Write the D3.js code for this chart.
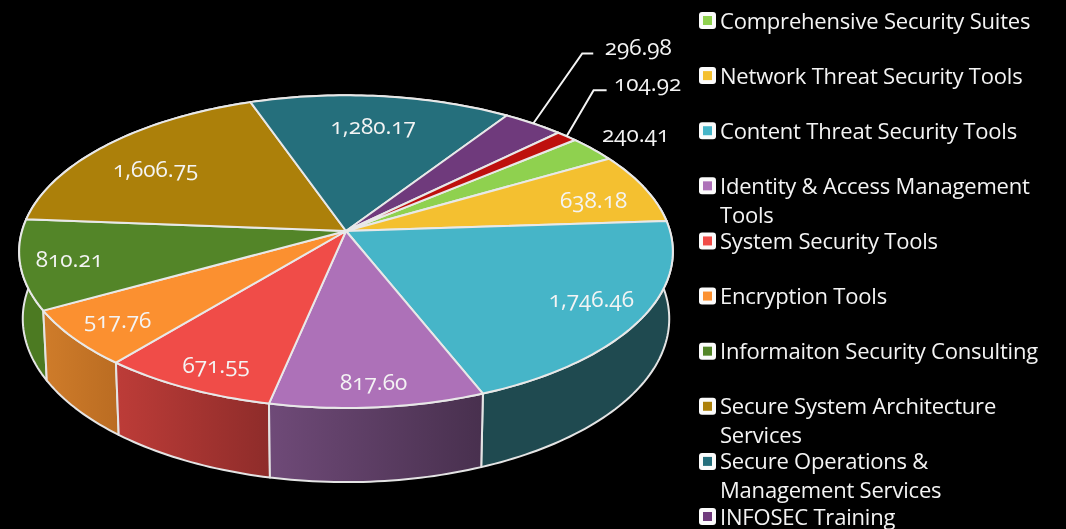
<!DOCTYPE html>
<html>
<head>
<meta charset="utf-8">
<script src="https://cdn.jsdelivr.net/npm/d3@7"></script>
<style>
  html, body { margin: 0; background: #000; overflow: hidden; }
  svg { display: block; filter: blur(0.4px); }
  text { font-family: "Open Sans", sans-serif; fill: #f4f4f4; font-variant-numeric: oldstyle-nums; font-feature-settings: "onum"; }
</style>
</head>
<body>
<svg id="pie-chart"></svg>
<script>
// Slice order follows the legend, the last slice has no visible legend entry
const categories = [
    ["Comprehensive Security Suites"],
    ["Network Threat Security Tools"],
    ["Content Threat Security Tools"],
    ["Identity & Access Management", "Tools"],
    ["System Security Tools"],
    ["Encryption Tools"],
    ["Informaiton Security Consulting"],
    ["Secure System Architecture", "Services"],
    ["Secure Operations &", "Management Services"],
    ["INFOSEC Training"]
]
const values = [240.41, 638.18, 1746.46, 817.60, 671.55, 517.76, 810.21, 1606.75, 1280.17, 296.98, 104.92]
const valueLabels = ["240.41", "638.18", "1,746.46", "817.60", "671.55", "517.76", "810.21", "1,606.75", "1,280.17", "296.98", "104.92"]

const topColors = ["#8fd14f", "#f4c030", "#46b5c8", "#ad71b8", "#f04c48", "#fb9030", "#538528", "#ac800a", "#256f7c", "#6f3a7c", "#be100d"]
const wallFrom = ["#70a53e", "#c09726", "#1f4a50", "#6f4a78", "#bd3c38", "#cf7c2a", "#4c7a22", "#87640a", "#1c5762", "#572e61", "#950c0a"]
const wallTo = ["#70a53e", "#c09726", "#1f4a50", "#48304e", "#8e2c2a", "#ba6c22", "#4c7a22", "#87640a", "#1c5762", "#572e61", "#950c0a"]

// How far out each label sits, as a fraction of the radius
const labelRadius = [1.19, 0.81, 0.83, 0.88, 0.866, 0.85, 0.853, 0.75, 0.754, 1, 1]
// Small turn off the middle of the slice, in degrees
const labelTurn = [0, 2.5, -1.7, 0, -1.3, 0, 0, -3.3, 0, 0, 0]
// Leader lines for the two thin slices: [elbow dx, elbow dy, tail length, text dx, text dy]
const callouts = { 9: [49, -70, 11, 105, -76], 10: [27, -46, 13, 81, -52] }

let svgWidth = 1066, svgHeight = 529
let cx = 346, cy = 231 // where the slices meet
let radiusX = 324, radiusY = 153.6 // projected radius
let perspective = 0.132 // front of the disc is closer to the viewer
let depth = 0.437, depthShrink = 0.011 // bottom of the disc

let svg = d3.select("#pie-chart")
    .attr("width", svgWidth)
    .attr("height", svgHeight)

let xScale = d3.scaleLinear().domain([-1, 1]).range([cx - radiusX, cx + radiusX])
let yScale = d3.scaleLinear().domain([-1, 1]).range([cy - radiusY, cy + radiusY])

// angle clockwise from the top, r in 0..1, z 0 for top face and 1 for bottom face
function project(angle, r, z) {
    let X = r * Math.sin(angle), Y = -r * Math.cos(angle)
    let w = 1 - perspective * Y + depthShrink * z
    return [xScale(X / w), yScale((Y + depth * z) / w)]
}

function rim(a0, a1, z) {
    let steps = Math.max(2, Math.ceil((a1 - a0) / 0.02))
    return d3.range(steps + 1).map(i => project(a0 + (a1 - a0) * i / steps, 1, z))
}

let pieData = d3.pie()
    .sort(null)
    .startAngle(50 * Math.PI / 180)
    .endAngle(410 * Math.PI / 180)(values)

let line = d3.line()
let defs = svg.append("defs")

// Outer walls, back to front
let wallOrder = pieData.slice().sort((a, b) =>
    Math.cos(b.startAngle + (b.endAngle - b.startAngle) / 2) - Math.cos(a.startAngle + (a.endAngle - a.startAngle) / 2))

wallOrder.forEach(d => {
    let grad = defs.append("linearGradient").attr("id", `wall-${d.index}`)
    grad.append("stop").attr("offset", "0%").attr("stop-color", wallFrom[d.index])
    grad.append("stop").attr("offset", "100%").attr("stop-color", wallTo[d.index])
    let points = rim(d.startAngle, d.endAngle, 0).concat(rim(d.startAngle, d.endAngle, 1).reverse())
    svg.append("path")
        .attr("d", line(points) + "Z")
        .attr("fill", `url(#wall-${d.index})`)
        .attr("stroke", "#e4e4e4")
        .attr("stroke-width", 2)
        .attr("stroke-linejoin", "round")
})

// Top face
svg.selectAll("path.slice")
    .data(pieData)
    .enter()
    .append("path")
    .attr("class", "slice")
    .attr("d", d => line([project(0, 0, 0)].concat(rim(d.startAngle, d.endAngle, 0))) + "Z")
    .attr("fill", d => topColors[d.index])
    .attr("stroke", "#e8e8e8")
    .attr("stroke-width", 2)
    .attr("stroke-linejoin", "round")

// Value labels
let labelSize = 22.5
pieData.forEach(d => {
    let mid = (d.startAngle + d.endAngle) / 2
    let pos = project(mid + labelTurn[d.index] * Math.PI / 180, labelRadius[d.index], 0)
    let callout = callouts[d.index]
    if (callout) {
        let elbow = [pos[0] + callout[0], pos[1] + callout[1]]
        svg.append("path")
            .attr("d", line([pos, elbow, [elbow[0] + callout[2], elbow[1]]]))
            .attr("fill", "none")
            .attr("stroke", "#f4f4f4")
            .attr("stroke-width", 2)
        pos = [pos[0] + callout[3], pos[1] + callout[4]]
    }
    svg.append("text")
        .attr("x", pos[0])
        .attr("y", pos[1])
        .attr("text-anchor", "middle")
        .attr("dy", "0.32em")
        .attr("font-size", labelSize)
        .text(valueLabels[d.index])
})

// Legend
let legendY = d3.scalePoint().domain(d3.range(categories.length)).range([21, 517])
let legend = svg.selectAll("g.legend")
    .data(categories)
    .enter()
    .append("g")
    .attr("class", "legend")
    .attr("transform", (d, i) => `translate(699, ${legendY(i)})`)

legend.append("rect")
    .attr("y", -9).attr("width", 17).attr("height", 17).attr("rx", 3)
    .attr("fill", "#fbfbfb")
legend.append("rect")
    .attr("x", 4).attr("y", -5).attr("width", 9).attr("height", 9)
    .attr("fill", (d, i) => topColors[i])

legend.each(function (lines) {
    d3.select(this).selectAll("text")
        .data(lines)
        .enter()
        .append("text")
        .attr("x", 21)
        .attr("y", (d, i) => 7.5 + i * 29)
        .attr("font-size", 22)
        .attr("letter-spacing", -0.2)
        .text(d => d)
})
</script>
</body>
</html>
